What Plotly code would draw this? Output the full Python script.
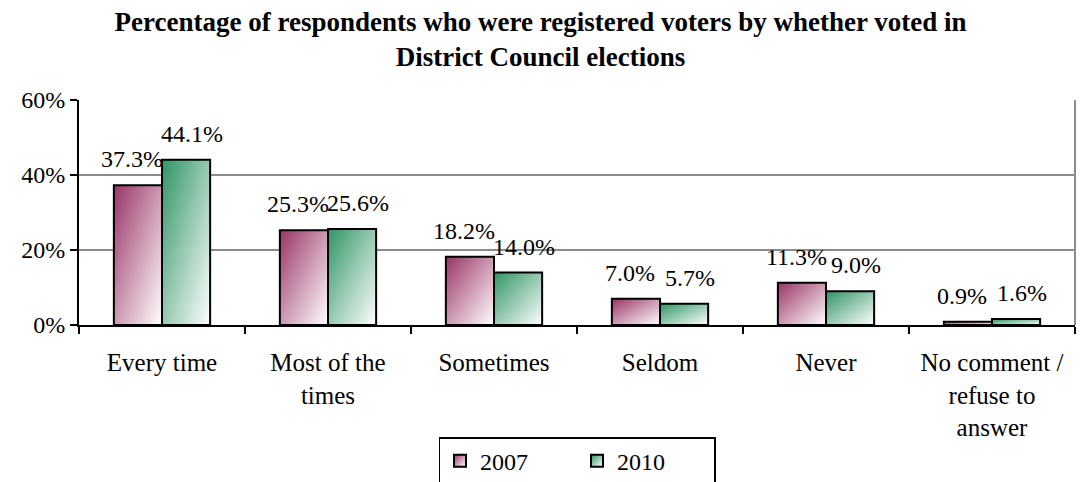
import plotly.graph_objects as go

categories = ["Every time", "Most of the<br>times", "Sometimes", "Seldom", "Never",
              "No comment /<br>refuse to<br>answer"]
values_2007 = [37.3, 25.3, 18.2, 7.0, 11.3, 0.9]
values_2010 = [44.1, 25.6, 14.0, 5.7, 9.0, 1.6]
y_ticks = [0, 20, 40, 60]
y_tick_text = ["0%", "20%", "40%", "60%"]

SERIF = "Liberation Serif, Times New Roman, serif"

series = [("2007", values_2007, "#b35d88", -30), ("2010", values_2010, "#5aa880", 30)]

fig = go.Figure()
for name, vals, col, _ in series:
    fig.add_trace(go.Bar(
        name=name, x=categories, y=vals,
        marker=dict(color=col, line=dict(color="black", width=2)),
    ))

# value labels sit a little above each bar, nudged toward its own bar side
annotations = []
for name, vals, _, shift in series:
    for cat, v in zip(categories, vals):
        annotations.append(dict(
            x=cat, y=v, xref="x", yref="y", text=f"{v:.1f}%",
            showarrow=False, xanchor="center", yanchor="bottom",
            xshift=shift, yshift=11,
            font=dict(family=SERIF, size=24, color="black"),
        ))

fig.update_layout(
    width=1081, height=482,
    margin=dict(l=79, r=6, t=100, b=157, autoexpand=False),
    paper_bgcolor="white", plot_bgcolor="white",
    barmode="group", bargap=0.42, bargroupgap=0,
    font=dict(family=SERIF, size=24, color="black"),
    title=dict(
        text="<b>Percentage of respondents who were registered voters by whether voted in<br>District Council elections</b>",
        xref="container", x=0.5, xanchor="center",
        yref="container", y=0.936, yanchor="middle",
        font=dict(family=SERIF, size=27, color="black"),
    ),
    annotations=annotations,
    showlegend=True,
    legend=dict(
        orientation="h", x=0.5, xanchor="center", y=-0.498, yanchor="top",
        bordercolor="black", borderwidth=1.5, entrywidth=92,
        font=dict(family=SERIF, size=24, color="black"),
        itemwidth=30,
    ),
)
fig.update_xaxes(
    showline=True, linecolor="black", linewidth=2, automargin=False,
    ticks="outside", tickson="boundaries", ticklen=7, tickwidth=2, tickcolor="black",
    ticklabelstandoff=14,
    showgrid=False, mirror=False,
    tickfont=dict(family=SERIF, size=25, color="black"),
)
fig.update_yaxes(
    range=[0, 60], tickmode="array", tickvals=y_ticks, ticktext=y_tick_text,
    showline=True, linecolor="black", linewidth=2, automargin=False,
    ticks="outside", ticklen=7, tickwidth=2, tickcolor="black",
    showgrid=True, gridcolor="#8c8c8c", gridwidth=2, zeroline=False,
    tickfont=dict(family=SERIF, size=24, color="black"),
)
# gray frame edge on the right side of the plot area
fig.add_shape(type="line", xref="paper", yref="paper", x0=1, x1=1, y0=0, y1=1,
              line=dict(color="#8c8c8c", width=2))

# diagonal fade-to-white fills for the bars and legend swatches
gradient_js = """
var gd = document.getElementById('{plot_id}');
function applyGrad(){
  var svg = gd.querySelector('svg.main-svg');
  var ns = 'http://www.w3.org/2000/svg';
  var defs = svg.querySelector('defs');
  if (!defs) { defs = document.createElementNS(ns, 'defs'); svg.insertBefore(defs, svg.firstChild); }
  var specs = [['g2007', '#993366'], ['g2010', '#2f9464']];
  specs.forEach(function(s){
    if (document.getElementById(s[0])) return;
    var lg = document.createElementNS(ns, 'linearGradient');
    lg.setAttribute('id', s[0]);
    lg.setAttribute('x1', '0'); lg.setAttribute('y1', '0');
    lg.setAttribute('x2', '1'); lg.setAttribute('y2', '1');
    var a = document.createElementNS(ns, 'stop');
    a.setAttribute('offset', '0'); a.setAttribute('stop-color', s[1]);
    var b = document.createElementNS(ns, 'stop');
    b.setAttribute('offset', '1'); b.setAttribute('stop-color', '#ffffff');
    lg.appendChild(a); lg.appendChild(b); defs.appendChild(lg);
  });
  var traces = gd.querySelectorAll('.barlayer .trace.bars');
  traces.forEach(function(t, i){
    t.querySelectorAll('.point path').forEach(function(p){ p.style.fill = 'url(#' + specs[i][0] + ')'; });
  });
  var items = gd.querySelectorAll('.legend .traces');
  items.forEach(function(t, i){
    t.querySelectorAll('.legendpoints path').forEach(function(p){ p.style.fill = 'url(#' + specs[i][0] + ')'; });
  });
}
applyGrad();
gd.on('plotly_afterplot', applyGrad);
"""

fig.write_html("out.html", post_script=gradient_js)
